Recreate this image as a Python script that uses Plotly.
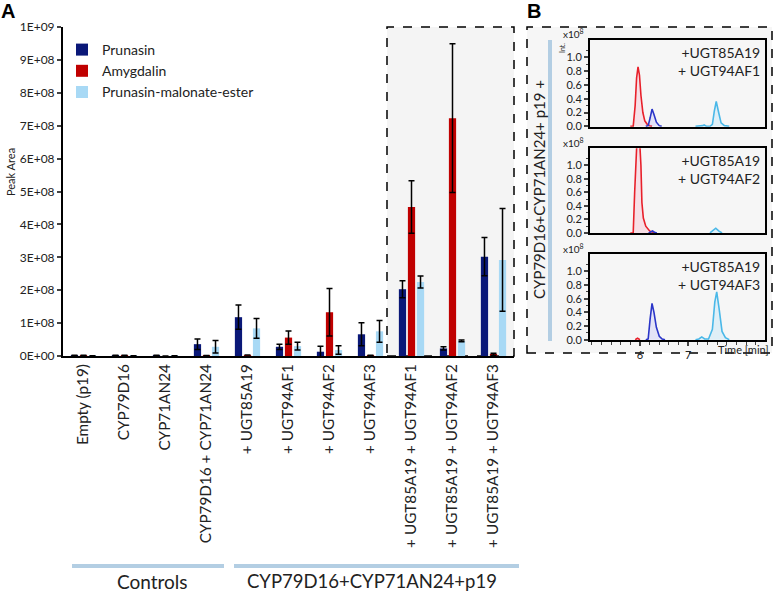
import plotly.graph_objects as go

W, H = 774, 594
def px(x): return x / W
def py(y): return 1 - y / H

# ---------------- Panel A data ----------------
categories = ["Empty (p19)", "CYP79D16", "CYP71AN24", "CYP79D16 + CYP71AN24",
              "+ UGT85A19", "+ UGT94AF1", "+ UGT94AF2", "+ UGT94AF3",
              "+ UGT85A19 + UGT94AF1", "+ UGT85A19 + UGT94AF2", "+ UGT85A19 + UGT94AF3"]
prunasin = [2e6, 2e6, 2e6, 3.6e7, 1.18e8, 2.8e7, 1.3e7, 6.6e7, 2.03e8, 2.3e7, 3.02e8]
prunasin_err = [0, 0, 0, 1.6e7, 3.7e7, 0.8e7, 1.7e7, 3.5e7, 2.6e7, 0.5e7, 5.8e7]
amygdalin = [2e6, 2e6, 0, 1.5e6, 3e6, 5.6e7, 1.33e8, 2e6, 4.53e8, 7.23e8, 5e6]
amygdalin_err = [0, 0, 0, 0, 0, 2e7, 7.2e7, 0, 8e7, 2.26e8, 3e6]
malonate = [1e6, 1e6, 1e6, 2.8e7, 8.4e7, 3.0e7, 1.8e7, 7.5e7, 2.25e8, 4.6e7, 2.92e8]
malonate_err = [0, 0, 0, 1.9e7, 3e7, 1.2e7, 1.3e7, 3.3e7, 1.8e7, 3e6, 1.56e8]
series_names = ["Prunasin", "Amygdalin", "Prunasin-malonate-ester"]
y_tickvals = [0, 1e8, 2e8, 3e8, 4e8, 5e8, 6e8, 7e8, 8e8, 9e8, 1e9]
y_ticktext = ["0E+00", "1E+08", "2E+08", "3E+08", "4E+08", "5E+08",
              "6E+08", "7E+08", "8E+08", "9E+08", "1E+09"]
group_labels = ["Controls", "CYP79D16+CYP71AN24+p19"]

# ---------------- Panel B data (chromatograms, x10^8) ----------------
panel_b_labels = ["+UGT85A19<br>+ UGT94AF1", "+UGT85A19<br>+ UGT94AF2", "+UGT85A19<br>+ UGT94AF3"]
af1_red_t = [5.80, 5.86, 5.90, 5.93, 5.96, 5.99, 6.02, 6.06, 6.10, 6.15, 6.20, 6.25]
af1_red_i = [0.0, 0.0, 0.30, 0.70, 0.86, 0.74, 0.45, 0.20, 0.08, 0.03, 0.01, 0.0]
af1_blue_t = [6.12, 6.17, 6.21, 6.25, 6.29, 6.34, 6.40, 6.45]
af1_blue_i = [0.0, 0.01, 0.12, 0.25, 0.17, 0.06, 0.01, 0.0]
af1_cyan_t = [7.15, 7.25, 7.30, 7.33, 7.38, 7.45, 7.50, 7.54, 7.58, 7.63, 7.68, 7.75, 7.85]
af1_cyan_i = [0.0, 0.0, 0.01, 0.02, 0.0, 0.0, 0.03, 0.22, 0.36, 0.20, 0.05, 0.01, 0.0]

af2_red_t = [5.80, 5.86, 5.89, 5.92, 5.94, 5.99, 6.02, 6.04, 6.07, 6.12, 6.20, 6.30]
af2_red_i = [0.0, 0.0, 0.60, 1.20, 1.40, 1.40, 1.0, 0.45, 0.22, 0.10, 0.03, 0.0]
af2_blue_t = [6.18, 6.22, 6.26, 6.30, 6.35]
af2_blue_i = [0.0, 0.02, 0.03, 0.01, 0.0]
af2_cyan_t = [7.45, 7.52, 7.57, 7.63, 7.70]
af2_cyan_i = [0.0, 0.04, 0.07, 0.03, 0.0]

af3_red_t = [5.90, 5.95, 6.00]
af3_red_i = [0.0, 0.02, 0.0]
af3_blue_t = [6.12, 6.17, 6.21, 6.25, 6.29, 6.34, 6.40, 6.46, 6.52]
af3_blue_i = [0.0, 0.01, 0.30, 0.53, 0.40, 0.18, 0.05, 0.01, 0.0]
af3_cyan_t = [7.15, 7.22, 7.28, 7.34, 7.42, 7.50, 7.55, 7.59, 7.64, 7.70, 7.77, 7.85]
af3_cyan_i = [0.0, 0.01, 0.04, 0.01, 0.01, 0.15, 0.55, 0.70, 0.45, 0.12, 0.03, 0.0]

b_ytickvals = [0.0, 0.2, 0.4, 0.6, 0.8, 1.0]
b_yminor = [0.1, 0.3, 0.5, 0.7, 0.9, 1.1]
b_xtickvals = [6, 7]
b_xminor = [5.0, 5.2, 5.4, 5.6, 5.8, 6.2, 6.4, 6.6, 6.8, 7.2, 7.4, 7.6, 7.8, 8.0, 8.2, 8.4]

FONT = "Lato"
C_PRU, C_AMY, C_MAL = "#0a1878", "#c00000", "#a8d9f5"

fig = go.Figure()
for name, vals, errs, col in [(series_names[0], prunasin, prunasin_err, C_PRU),
                              (series_names[1], amygdalin, amygdalin_err, C_AMY),
                              (series_names[2], malonate, malonate_err, C_MAL)]:
    fig.add_trace(go.Bar(x=categories, y=vals, name=name, marker_color=col,
                         marker_line_width=0,
                         error_y=dict(type="data", array=errs, color="black",
                                      thickness=1.5, width=3),
                         xaxis="x", yaxis="y"))

LC = dict(red="#e8202a", blue="#2a35c8", cyan="#4ab8e8")
FC = dict(red="rgba(255,120,160,0.18)", blue="rgba(120,120,255,0.15)", cyan="rgba(120,210,255,0.18)")
chrom = [
    [("red", af1_red_t, af1_red_i), ("blue", af1_blue_t, af1_blue_i), ("cyan", af1_cyan_t, af1_cyan_i)],
    [("red", af2_red_t, af2_red_i), ("blue", af2_blue_t, af2_blue_i), ("cyan", af2_cyan_t, af2_cyan_i)],
    [("red", af3_red_t, af3_red_i), ("blue", af3_blue_t, af3_blue_i), ("cyan", af3_cyan_t, af3_cyan_i)],
]
for k, traces in enumerate(chrom):
    for c, t, i in traces:
        fig.add_trace(go.Scatter(x=t, y=i, mode="lines", line=dict(color=LC[c], width=1.6),
                                 fill="tozeroy", fillcolor=FC[c], showlegend=False,
                                 xaxis="x%d" % (k + 2), yaxis="y%d" % (k + 2)))

layout = dict(
    width=W, height=H, margin=dict(l=0, r=0, t=0, b=0, autoexpand=False),
    paper_bgcolor="white", plot_bgcolor="rgba(0,0,0,0)",
    font=dict(family=FONT, color="#222"),
    barmode="group", bargap=0.34, bargroupgap=0.2,
    showlegend=True,
    legend=dict(x=px(62), y=py(34), xanchor="left", yanchor="top",
                bgcolor="rgba(0,0,0,0)", font=dict(size=14, family=FONT), itemwidth=30),
    xaxis=dict(domain=[px(63), px(514)], anchor="y", showline=True, linecolor="black",
               linewidth=2, tickangle=-90, tickfont=dict(size=15.3), ticks="",
               range=[-0.5, 10.5], fixedrange=True, automargin=False),
    yaxis=dict(domain=[py(356), py(27)], anchor="x", range=[0, 1e9], showline=True,
               linecolor="black", linewidth=2, ticks="outside", ticklen=4, tickwidth=2,
               tickvals=y_tickvals, ticktext=y_ticktext, tickfont=dict(size=12),
               showgrid=False, zeroline=False, automargin=False),
)
b_dom = [(40, 126.7), (148.3, 233.3), (254.3, 340)]
for k, (top, bot) in enumerate(b_dom):
    n = k + 2
    last = (k == 2)
    layout["xaxis%d" % n] = dict(domain=[px(590), px(765)], anchor="y%d" % n, range=[4.965, 8.59],
                                 showline=True, mirror=True, linecolor="black", linewidth=2,
                                 showgrid=False, zeroline=False, automargin=False,
                                 ticks="outside" if last else "", ticklen=4, tickwidth=1.5,
                                 showticklabels=last, tickvals=b_xtickvals,
                                 tickfont=dict(size=11),
                                 minor=dict(ticks="outside" if last else "", tickvals=b_xminor,
                                            ticklen=3, tickwidth=1.2))
    layout["yaxis%d" % n] = dict(domain=[py(bot), py(top)], anchor="x%d" % n, range=[-0.005, 1.25],
                                 showline=True, mirror=True, linecolor="black", linewidth=2,
                                 showgrid=False, zeroline=False, ticks="outside", ticklen=4,
                                 tickwidth=1.5, tickvals=b_ytickvals, tickformat=".1f",
                                 tickfont=dict(size=11), automargin=False,
                                 minor=dict(ticks="outside", tickvals=b_yminor, ticklen=2.5,
                                            tickwidth=1.2))
fig.update_layout(**layout)

shapes = []
# Panel A highlight box
shapes.append(dict(type="rect", xref="paper", yref="paper", x0=px(387), x1=px(514),
                   y0=py(356), y1=py(27), fillcolor="#f4f4f4", layer="below",
                   line=dict(color="black", width=1.5, dash="dash")))
# Panel B box
shapes.append(dict(type="rect", xref="paper", yref="paper", x0=px(527), x1=px(772),
                   y0=py(353), y1=py(27), fillcolor="#f6f6f6", layer="below",
                   line=dict(color="black", width=1.5, dash="dash")))
# group bars
bar_col = "#b3cee3"
shapes.append(dict(type="line", xref="paper", yref="paper", x0=px(72), x1=px(224),
                   y0=py(566), y1=py(566), line=dict(color=bar_col, width=4)))
shapes.append(dict(type="line", xref="paper", yref="paper", x0=px(234), x1=px(519),
                   y0=py(566), y1=py(566), line=dict(color=bar_col, width=4)))
shapes.append(dict(type="line", xref="paper", yref="paper", x0=px(550), x1=px(550),
                   y0=py(341), y1=py(40), line=dict(color=bar_col, width=4)))
fig.update_layout(shapes=shapes)

ann = []
ann.append(dict(text="<b>A</b>", x=px(8), y=py(11), font=dict(size=20, family="Liberation Sans", color="black")))
ann.append(dict(text="<b>B</b>", x=px(534), y=py(11), font=dict(size=20, family="Liberation Sans", color="black")))
ann.append(dict(text="Peak Area", x=px(10), y=py(172), textangle=-90, font=dict(size=11)))
ann.append(dict(text=group_labels[0], x=px(152), y=py(581), font=dict(size=19)))
ann.append(dict(text=group_labels[1], x=px(372), y=py(581), font=dict(size=18.5)))
ann.append(dict(text="CYP79D16+CYP71AN24+ p19 +", x=px(539), y=py(190), textangle=-90,
                font=dict(size=15)))
for k, (top, bot) in enumerate(b_dom):
    ann.append(dict(text=panel_b_labels[k], x=px(762), y=py(top + 21), xanchor="right",
                    align="right", font=dict(size=14)))
    ann.append(dict(text="x10<sup>8</sup>", x=px(573), y=py(top - 6), font=dict(size=10)))
ann.append(dict(text="Int.", x=px(562), y=py(48), textangle=-90, font=dict(size=7)))
ann.append(dict(text="Time [min]", x=px(743), y=py(349), font=dict(size=11)))
for a in ann:
    a.setdefault("xref", "paper"); a.setdefault("yref", "paper")
    a.setdefault("showarrow", False)
    a.setdefault("xanchor", "center"); a.setdefault("yanchor", "middle")
fig.update_layout(annotations=ann)

fig.write_html("out.html", config={"displayModeBar": False},
               post_script="document.body.style.margin='0px';")
